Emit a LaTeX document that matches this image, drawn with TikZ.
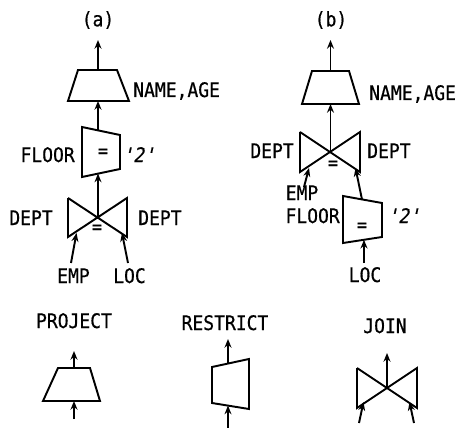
\documentclass[tikz,border=0pt]{standalone}
\usepackage{fontspec}
\setmainfont{DejaVu Sans Mono}[FakeStretch=0.9,FakeBold=0.6]
\newfontfamily\slantfont{DejaVu Sans Mono}[FakeStretch=0.9,FakeSlant=0.22,FakeBold=0.6]
\usetikzlibrary{arrows.meta}
\begin{document}
\begin{tikzpicture}[x=0.75pt,y=-0.75pt,
  shapeline/.style={line width=1.45pt,line join=miter},
  flow/.style={line width=1.45pt,-{Stealth[length=6.5pt,width=5.2pt]}},
  lbl/.style={inner sep=0pt,font=\fontsize{15}{17}\selectfont},
  eq/.style={inner sep=0pt,font=\fontsize{14}{16}\selectfont}]
\path[use as bounding box] (0,0) rectangle (468,428);

% ================= (a) =================
\node[lbl] (ta) at (98,20) {(a)};
% project
\coordinate (pa1) at (78,70); \coordinate (pa2) at (117,70);
\coordinate (pa3) at (129,101); \coordinate (pa4) at (68,101);
\draw[shapeline] (pa1) -- (pa2) -- (pa3) -- (pa4) -- cycle;
\coordinate (paT) at (98,70); \coordinate (paB) at (98,101);
\coordinate (paOut) at (98,40);
\draw[flow] (paT) -- (paOut);
\node[lbl,anchor=base west] (naa) at (133,97) {NAME,AGE};
% restrict
\coordinate (ra1) at (82,127); \coordinate (ra2) at (120,135);
\coordinate (ra3) at (120,169); \coordinate (ra4) at (82,177);
\draw[shapeline] (ra1) -- (ra2) -- (ra3) -- (ra4) -- cycle;
\coordinate (raT) at (98,130.4); \coordinate (raB) at (98,173.6);
\draw[flow] (raT) -- (paB);
\node[lbl,anchor=base east] (fla) at (75,162) {FLOOR};
\node[lbl,anchor=base west] (twa) at (122,162) {\slantfont '2'};
\node[eq] (eqra) at (103,153) {=};
% join
\coordinate (ja1) at (68,198); \coordinate (ja2) at (127,198);
\coordinate (ja3) at (127,237); \coordinate (ja4) at (68,237);
\draw[shapeline] (ja1) -- (ja4) -- (ja2) -- (ja3) -- (ja1);
\coordinate (jaC) at (98,217.5);
\draw[flow] (jaC) -- (raB);
\node[eq] (eqja) at (97,229) {=};
\node[lbl,anchor=base east] (dal) at (53,225) {DEPT};
\node[lbl,anchor=base west] (dar) at (138,225) {DEPT};
\node[lbl,anchor=base] (empa) at (73.5,283) {EMP};
\node[lbl,anchor=base] (loca) at (129.5,283) {LOC};
\coordinate (emps) at (71,263); \coordinate (locs) at (128,263);
\coordinate (jaL) at (76.5,233); \coordinate (jaR) at (122,233);
\draw[flow] (emps) -- (jaL);
\draw[flow] (locs) -- (jaR);

% ================= (b) =================
\node[lbl] (tb) at (331,20) {(b)};
% project
\coordinate (pb1) at (312,71); \coordinate (pb2) at (349,71);
\coordinate (pb3) at (359,104); \coordinate (pb4) at (302,104);
\draw[shapeline] (pb1) -- (pb2) -- (pb3) -- (pb4) -- cycle;
\coordinate (pbT) at (330.5,71); \coordinate (pbB) at (330.5,104);
\coordinate (pbOut) at (330.5,40);
\draw[flow] (pbT) -- (pbOut);
\node[lbl,anchor=base west] (nab) at (369,100) {NAME,AGE};
% join
\coordinate (jb1) at (300,132); \coordinate (jb2) at (360,132);
\coordinate (jb3) at (360,172); \coordinate (jb4) at (300,172);
\draw[shapeline] (jb1) -- (jb4) -- (jb2) -- (jb3) -- (jb1);
\coordinate (jbC) at (330.5,152);
\draw[flow] (jbC) -- (pbB);
\node[eq] (eqjb) at (333,165) {=};
\node[lbl,anchor=base east] (dbl) at (294,158) {DEPT};
\node[lbl,anchor=base west] (dbr) at (367,158) {DEPT};
\node[lbl,anchor=base] (empb) at (302,200) {EMP};
\coordinate (empbs) at (304,187); \coordinate (jbL) at (309,168);
\draw[flow] (empbs) -- (jbL);
% restrict
\coordinate (rb1) at (343,196); \coordinate (rb2) at (382,203);
\coordinate (rb3) at (382,237); \coordinate (rb4) at (343,243);
\draw[shapeline] (rb1) -- (rb2) -- (rb3) -- (rb4) -- cycle;
\coordinate (rbT) at (362,199.5); \coordinate (rbB) at (364,239.8);
\coordinate (jbR) at (355.5,168);
\draw[flow] (rbT) -- (jbR);
\node[lbl,anchor=base east] (flb) at (340,223) {FLOOR};
\node[lbl,anchor=base west] (twb) at (387,223) {\slantfont '2'};
\node[eq] (eqrb) at (362,227) {=};
\node[lbl,anchor=base] (locb) at (365,282) {LOC};
\coordinate (locbs) at (364,263);
\draw[flow] (locbs) -- (rbB);

% ================= legend =================
\node[lbl,anchor=base] (lp) at (74,328) {PROJECT};
\node[lbl,anchor=base] (lr) at (225,330) {RESTRICT};
\node[lbl,anchor=base] (lj) at (385,333) {JOIN};
% project
\coordinate (pl1) at (58,368); \coordinate (pl2) at (90,368);
\coordinate (pl3) at (100,401); \coordinate (pl4) at (43,401);
\draw[shapeline] (pl1) -- (pl2) -- (pl3) -- (pl4) -- cycle;
\coordinate (plT) at (74,368); \coordinate (plB) at (74,401);
\coordinate (plOut) at (74,351); \coordinate (plIn) at (74,419);
\draw[flow] (plT) -- (plOut);
\draw[flow] (plIn) -- (plB);
% restrict
\coordinate (rl1) at (212,367); \coordinate (rl2) at (249,359);
\coordinate (rl3) at (249,409); \coordinate (rl4) at (212,403);
\draw[shapeline] (rl1) -- (rl2) -- (rl3) -- (rl4) -- cycle;
\coordinate (rlT) at (228,363.5); \coordinate (rlB) at (228,405.6);
\coordinate (rlOut) at (228,339); \coordinate (rlIn) at (228,428);
\draw[flow] (rlT) -- (rlOut);
\draw[flow] (rlIn) -- (rlB);
% join
\coordinate (jl1) at (357,368); \coordinate (jl2) at (417,368);
\coordinate (jl3) at (417,408); \coordinate (jl4) at (357,408);
\draw[shapeline] (jl1) -- (jl4) -- (jl2) -- (jl3) -- (jl1);
\coordinate (jlC) at (387,388); \coordinate (jlOut) at (387,353);
\draw[flow] (jlC) -- (jlOut);
\coordinate (jlLs) at (359,423); \coordinate (jlL) at (363.5,402);
\coordinate (jlRs) at (414,423); \coordinate (jlR) at (409.5,402);
\draw[flow] (jlLs) -- (jlL);
\draw[flow] (jlRs) -- (jlR);
\end{tikzpicture}
\end{document}
